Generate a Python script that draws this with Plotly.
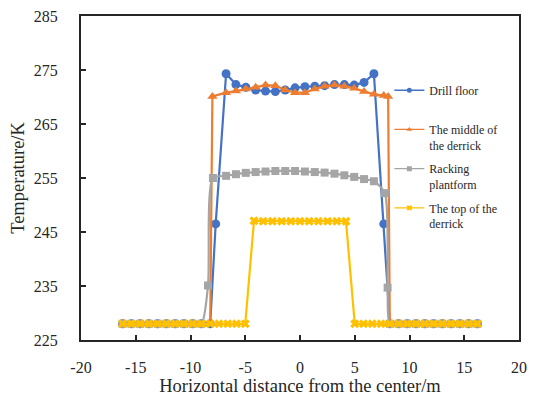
import plotly.graph_objects as go

# ---------------- data ----------------
left_flat = [-16.2, -15.4, -14.6, -13.8, -13.0, -12.2, -11.4, -10.6, -9.8, -9.0, -8.2]
right_flat = [8.2, 9.0, 9.8, 10.6, 11.4, 12.2, 13.0, 13.8, 14.6, 15.4, 16.2]
center_x = [-6.75, -5.85, -4.95, -4.05, -3.15, -2.25, -1.35, -0.45,
            0.45, 1.35, 2.25, 3.15, 4.05, 4.95, 5.85, 6.75]

drill_x = left_flat + [-7.7] + center_x + [7.65] + right_flat
drill_y = [228.0] * 11 + [246.5] + [274.3, 272.3, 271.8, 271.3, 271.1, 271.0, 271.3, 271.7,
                                    271.9, 272.0, 272.1, 272.3, 272.3, 272.2, 272.7, 274.3] + [246.5] + [228.0] * 11

middle_x = left_flat + [-8.0] + center_x + [7.65, 8.05] + right_flat
middle_y = [228.0] * 11 + [270.1] + [270.8, 271.1, 271.5, 271.8, 272.2, 272.1, 271.3, 270.8,
                                     270.8, 271.5, 272.0, 272.2, 272.0, 271.6, 271.0, 270.5] + [270.3, 270.1] + [228.0] * 11

rack_x = left_flat[:10] + [-8.4, -7.95] + center_x + [7.75, 8.0] + right_flat
rack_y = [228.0] * 10 + [235.1, 255.0] + [255.4, 255.7, 255.95, 256.1, 256.2, 256.3, 256.3, 256.3,
                                         256.2, 256.1, 256.0, 255.8, 255.5, 255.2, 254.8, 254.4] + [252.2, 234.7] + [228.0] * 11

top_left_x = [-16.2, -15.4, -14.6, -13.8, -13.0, -12.2, -11.4, -10.6, -9.8, -9.0, -8.2, -7.4, -6.6, -5.8, -5.0]
top_mid_x = [-4.2, -3.36, -2.52, -1.68, -0.84, 0.0, 0.84, 1.68, 2.52, 3.36, 4.2]
top_right_x = [5.0, 5.8, 6.6, 7.4, 8.2, 9.0, 9.8, 10.6, 11.4, 12.2, 13.0, 13.8, 14.6, 15.4, 16.2]
top_x = top_left_x + top_mid_x + top_right_x
top_y = [228.0] * 15 + [247.1, 247.0, 247.0, 247.0, 247.0, 247.0, 247.0, 247.0, 247.0, 247.0, 247.0] + [228.0] * 15

names = ["Drill floor<br> ", "The middle of<br>the derrick", "Racking<br>plantform", "The top of the<br>derrick"]
colors = ["#4472C4", "#ED7D31", "#A5A5A5", "#FFC000"]
symbols = ["circle", "triangle-up", "square", "x"]

x_ticks = [-20, -15, -10, -5, 0, 5, 10, 15, 20]
y_ticks = [225, 235, 245, 255, 265, 275, 285]

# ---------------- figure ----------------
fig = go.Figure()
series = [(drill_x, drill_y, 9, "linear"), (middle_x, middle_y, 9, "linear"),
          (rack_x, rack_y, 8, "spline"), (top_x, top_y, 8, "linear")]
for i, (xs, ys, ms, shape) in enumerate(series):
    fig.add_trace(go.Scatter(
        x=xs, y=ys, mode="lines+markers", showlegend=False,
        line=dict(color=colors[i], width=2.2, shape=shape, smoothing=0.7),
        marker=dict(symbol=symbols[i], size=ms, color=colors[i],
                    line=dict(width=0)),
    ))
# legend-only traces (smaller symbols as in the reference)
for i in range(4):
    fig.add_trace(go.Scatter(
        x=[None], y=[None], mode="lines+markers", name=names[i],
        legendgroup=str(i),
        line=dict(color=colors[i], width=1.3),
        marker=dict(symbol=symbols[i], size=5, color=colors[i]),
    ))

font_family = "Liberation Serif, Times New Roman, serif"
axis_common = dict(
    showline=True, linecolor="#262626", linewidth=2, mirror=True,
    ticks="inside", ticklen=5, tickwidth=1.5, tickcolor="#262626",
    showgrid=False, zeroline=False,
    tickfont=dict(family=font_family, size=16, color="#262626"),
)
fig.update_layout(
    width=535, height=399,
    margin=dict(l=81, r=8, t=16, b=56),
    paper_bgcolor="white", plot_bgcolor="white",
    font=dict(family=font_family, color="#262626"),
    xaxis=dict(range=[-20, 20], tickvals=x_ticks, ticktext=[str(v) for v in x_ticks],
               ticklabelstandoff=12,
               title=dict(text="Horizontal distance from the center/m",
                          font=dict(family=font_family, size=18.5, color="#262626"),
                          standoff=2),
               **axis_common),
    yaxis=dict(range=[225, 285], tickvals=y_ticks, ticktext=[str(v) for v in y_ticks],
               ticklabelstandoff=18,
               title=dict(text="Temperature/K",
                          font=dict(family=font_family, size=18.5, color="#262626"),
                          standoff=4),
               **axis_common),
    legend=dict(x=0.704, y=0.815, xanchor="left", yanchor="top",
                bgcolor="rgba(255,255,255,0)", borderwidth=0,
                font=dict(family=font_family, size=12, color="#262626"),
                valign="top", tracegroupgap=5, itemwidth=30),
)
fig.write_html("out.html")
